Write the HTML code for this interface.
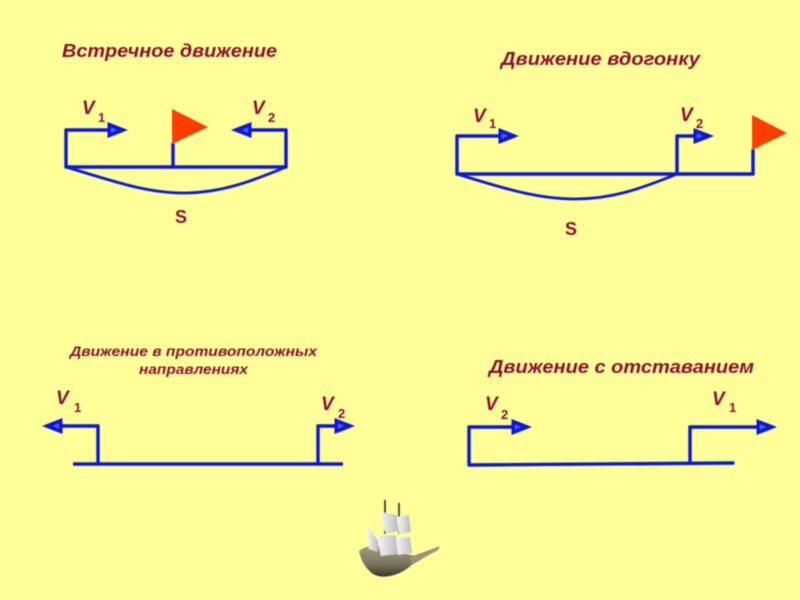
<!DOCTYPE html>
<html><head><meta charset="utf-8">
<style>
html,body{margin:0;padding:0;background:#ffff99;}
svg{display:block;}
text{font-family:"Liberation Sans",sans-serif;font-weight:bold;fill:#8a1030;}
.i{font-style:italic;}
.l{fill:none;stroke:#0a14dc;stroke-width:3.4;stroke-linejoin:round;stroke-linecap:round;}
.c{fill:none;stroke:#0a14dc;stroke-width:2.8;stroke-linecap:round;}
</style></head>
<body>
<svg width="800" height="600" viewBox="0 0 800 600" xmlns="http://www.w3.org/2000/svg">
<defs>
<filter id="b" x="-10%" y="-10%" width="120%" height="120%"><feGaussianBlur stdDeviation="0.4"/></filter>
<filter id="s" x="-10%" y="-10%" width="120%" height="120%"><feGaussianBlur stdDeviation="0.6"/></filter>
<linearGradient id="h" x1="0" y1="0" x2="0" y2="1"><stop offset="0" stop-color="#a59f84"/><stop offset=".6" stop-color="#7a735c"/><stop offset="1" stop-color="#3a3428"/></linearGradient>
<linearGradient id="w" x1="0" y1="0" x2="1" y2="0"><stop offset="0" stop-color="#f6f6f6"/><stop offset="1" stop-color="#bcbcbc"/></linearGradient>
<g id="ar"><path d="M-0.5,-8 L20,0 L-0.5,8 Z" fill="#0a14dc"/><path d="M3,-2.5 L9,0 L3,2.5 Z" fill="#4a62ee"/></g>
</defs>
<rect width="800" height="600" fill="#ffff99"/>
<g filter="url(#b)">
<!-- Diagram 1 -->
<path class="l" d="M108,130 H66 V167 H286 V130 H251"/>
<path class="l" d="M173,144 V167"/>
<use href="#ar" transform="translate(108,130)"/>
<use href="#ar" transform="translate(251,130) scale(-1,1)"/>
<path d="M172,109 L208,127 L172,144 Z" fill="#ff3c00"/>
<path class="c" d="M66,167 C110,180 145,193 183,193 C220,193 250,182 286,167"/>
<!-- Diagram 2 -->
<path class="l" d="M499,136 H457 V174 H753 V150"/>
<path class="l" d="M694,136 H677 V174"/>
<use href="#ar" transform="translate(499,136)"/>
<use href="#ar" transform="translate(694,136)"/>
<path d="M752,115 L787,133 L752,150 Z" fill="#ff3c00"/>
<path class="c" d="M457,174 C500,187 535,199 575,199 C612,199 640,189 677,174"/>
<!-- Diagram 3 -->
<path class="l" style="stroke-linecap:butt" d="M73,464 H343"/>
<path class="l" d="M62,426 H98 V464"/>
<path class="l" d="M335,426 H318 V464"/>
<use href="#ar" transform="translate(62,426) scale(-1,1)"/>
<use href="#ar" transform="translate(335,426)"/>
<!-- Diagram 4 -->
<path class="l" d="M512,427 H469 V465 L733,463"/>
<path class="l" d="M757,427 H690 V463"/>
<use href="#ar" transform="translate(512,427)"/>
<use href="#ar" transform="translate(757,427)"/>
<!-- Text -->
<text class="i" x="62" y="57" font-size="18.5" textLength="215" lengthAdjust="spacingAndGlyphs">Встречное движение</text>
<text class="i" x="501" y="65" font-size="18.5" textLength="199" lengthAdjust="spacingAndGlyphs">Движение вдогонку</text>
<text class="i" x="70" y="356" font-size="14" textLength="247" lengthAdjust="spacingAndGlyphs">Движение в противоположных</text>
<text class="i" x="139" y="374" font-size="14" textLength="109" lengthAdjust="spacingAndGlyphs">направлениях</text>
<text class="i" x="489" y="373" font-size="18.5" textLength="265" lengthAdjust="spacingAndGlyphs">Движение с отставанием</text>
<text x="175" y="223" font-size="18">S</text>
<text x="565" y="235" font-size="18">S</text>
<text class="i" x="82" y="114" font-size="19">V</text><text x="98" y="122" font-size="13">1</text>
<text class="i" x="252" y="114" font-size="19">V</text><text x="268" y="122" font-size="13">2</text>
<text class="i" x="473" y="122" font-size="19">V</text><text x="489" y="128" font-size="13">1</text>
<text class="i" x="680" y="121" font-size="19">V</text><text x="696" y="128" font-size="13">2</text>
<text class="i" x="56" y="404" font-size="19">V</text><text x="74" y="412" font-size="13">1</text>
<text class="i" x="321" y="410" font-size="19">V</text><text x="338" y="418" font-size="13">2</text>
<text class="i" x="485" y="410" font-size="19">V</text><text x="501" y="419" font-size="13">2</text>
<text class="i" x="712" y="405" font-size="19">V</text><text x="729" y="412" font-size="13">1</text>
</g>
<!-- Ship -->
<g filter="url(#s)">
<path d="M385,500 V534 M399,503 V534" stroke="#2e2a20" stroke-width="1.6" fill="none"/>
<path d="M359,551 Q366,545 378,546 L396,552 L416,556 Q415,563 408,568 Q400,574 390,576 Q380,578 373,574 Q362,566 359,551 Z" fill="url(#h)"/>
<path d="M410,557 L424,552 L440,546 L438,550 L427,556 L412,565 Z" fill="#9a9478"/>
<path d="M380,512 L397,515 L398,531 L386,534 Q382,524 380,512 Z" fill="url(#w)"/>
<path d="M397,517 L409,515 L411,532 L399,534 Z" fill="url(#w)"/>
<path d="M367,525 L378,541 L378,552 L369,549 Z" fill="url(#w)"/>
<path d="M377,536 L396,535 L398,554 L381,556 Z" fill="url(#w)"/>
<path d="M396,538 L410,537 L412,553 L398,555 Z" fill="url(#w)"/>
</g>
</svg>
</body></html>
